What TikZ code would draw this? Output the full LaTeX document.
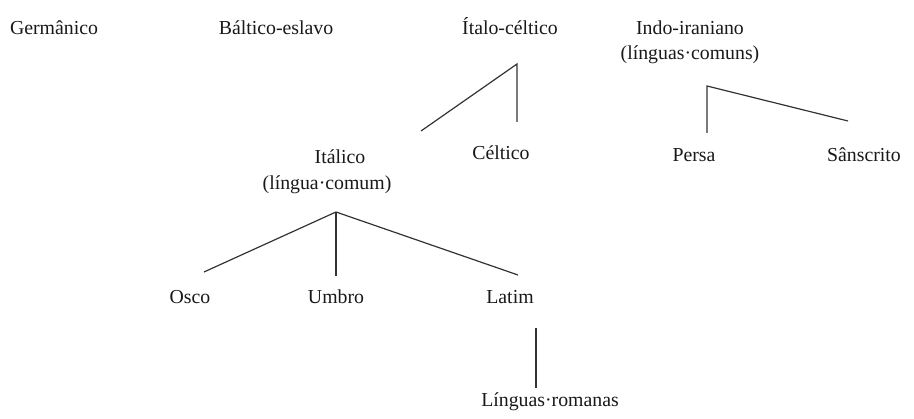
\documentclass[tikz,border=0pt]{standalone}
\usepackage{fontspec}
\setmainfont{Liberation Serif}
\begin{document}
\begin{tikzpicture}[x=1pt,y=-1pt,
  lbl/.style={anchor=base,inner sep=0pt,font=\fontsize{19.8}{25}\selectfont,text=black!90,align=center},
  branch/.style={draw=black!80,line width=1.2pt}]
\useasboundingbox[fill=white] (0,0) rectangle (914,419);
% top row
\node[lbl] (ger) at (54,35) {Germânico};
\node[lbl] (bal) at (276,35) {Báltico-eslavo};
\node[lbl] (itc) at (510,35) {Ítalo-céltico};
\node[lbl] (ind) at (690,35) {Indo-iraniano};
\node[lbl] (indb) at (690,60) {(línguas·comuns)};
% second row
\node[lbl] (ita) at (340,164) {Itálico};
\node[lbl] (itab) at (327,190) {(língua·comum)};
\node[lbl] (cel) at (501,160) {Céltico};
\node[lbl] (per) at (694,162) {Persa};
\node[lbl] (san) at (864,162) {Sânscrito};
% third row
\node[lbl] (osc) at (190,304) {Osco};
\node[lbl] (umb) at (336,304) {Umbro};
\node[lbl] (lat) at (510,304) {Latim};
\node[lbl] (rom) at (550,407) {Línguas·romanas};
% connector points
\coordinate (itcTop) at (517,64);
\coordinate (itcL) at (421,131);
\coordinate (itcR) at (517,122);
\coordinate (indTop) at (707,86);
\coordinate (indL) at (707,133);
\coordinate (indR) at (848,121);
\coordinate (itaTop) at (336,212);
\coordinate (itaL) at (204,272);
\coordinate (itaM) at (336,276);
\coordinate (itaR) at (518,275);
\coordinate (latTop) at (536,328);
\coordinate (latBot) at (536,388);
% connectors
\draw[branch] (itcL) -- (itcTop) -- (itcR);
\draw[branch] (indL) -- (indTop) -- (indR);
\draw[branch] (itaL) -- (itaTop) -- (itaR);
\draw[branch] (itaTop) -- (itaM);
\draw[branch] (latTop) -- (latBot);
\end{tikzpicture}
\end{document}
